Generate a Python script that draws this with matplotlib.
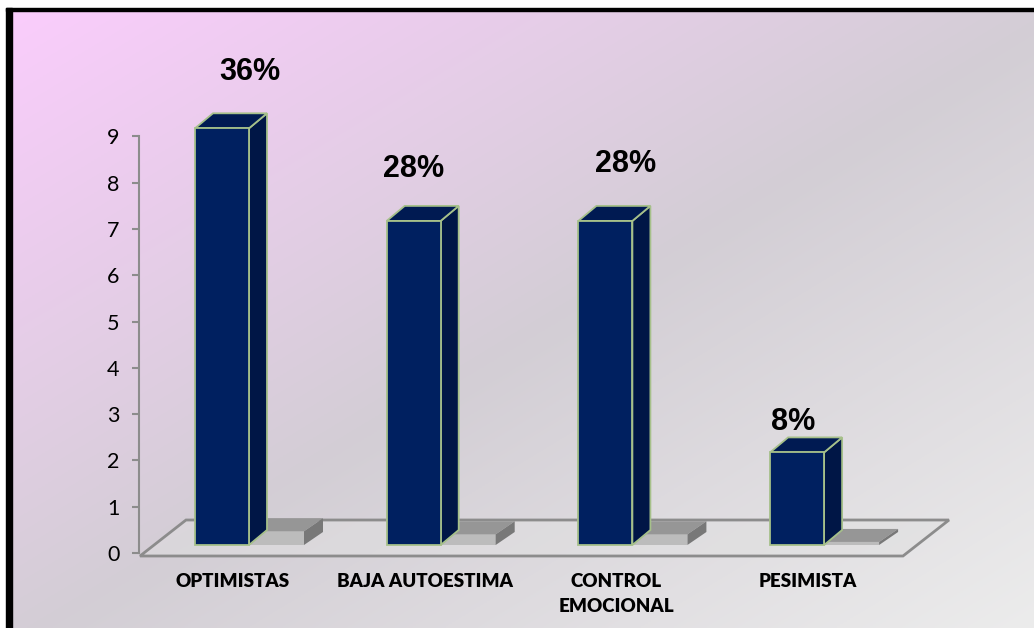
import numpy as np
import matplotlib.pyplot as plt
from matplotlib.patches import Polygon, Rectangle

categorias = ['OPTIMISTAS', 'BAJA AUTOESTIMA', 'CONTROL\nEMOCIONAL', 'PESIMISTA']
cantidad = [9, 7, 7, 2]
total = sum(cantidad)
porcentajes = [round(c / total * 100) for c in cantidad]
marcas_y = list(range(0, 10))

W, H = 1034, 628
fig = plt.figure(figsize=(W / 100, H / 100), dpi=100)

# escala de la vista: pixeles por categoria y por unidad de valor
SX, SY = 191.7, 46.3
X0, Y0 = 212, 553


def d(dx, dy):
    # desplazamiento en pixeles (dy hacia arriba) -> unidades de datos
    return dx / SX, dy / SY


# fondo degradado rosa -> gris
bg = fig.add_axes([12 / W, 0, 1 - 12 / W, (H - 11) / H])
bg.axis('off')
U, V = np.meshgrid(np.linspace(0, 1, 400), np.linspace(0, 1, 300))
t = (U + V) / 2
stops = np.array([[250, 204, 252], [211, 206, 213], [236, 236, 236]]) / 255
img = np.empty(t.shape + (3,))
for k in range(3):
    img[..., k] = np.interp(t, [0, 0.52, 1], stops[:, k])
bg.imshow(img, aspect='auto', extent=[0, 1, 0, 1])
bg.set_xlim(0, 1)
bg.set_ylim(0, 1)

# borde negro izquierdo y superior
fig.add_artist(Rectangle((6 / W, 0), 6 / W, (H - 8) / H, transform=fig.transFigure,
                         color='black', zorder=10))
fig.add_artist(Rectangle((6 / W, (H - 11) / H), 1, 3 / H, transform=fig.transFigure,
                         color='black', zorder=10))

ax = fig.add_axes([0, 0, 1, 1])
ax.patch.set_alpha(0)
ax.set_xlim((0 - X0) / SX, (W - X0) / SX)
ax.set_ylim((Y0 - H) / SY, Y0 / SY)

gris = '#8c8c8c'
for s in ['top', 'right', 'bottom']:
    ax.spines[s].set_visible(False)
ax.spines['left'].set_position(('data', (139 - X0) / SX))
ax.spines['left'].set_bounds(0, 9)
ax.spines['left'].set_color(gris)
ax.spines['left'].set_linewidth(1.5)
ax.set_xticks([])
ax.set_yticks(marcas_y)
ax.tick_params(axis='y', direction='out', length=5, width=1.5, color=gris,
               labelsize=15.5, pad=9, labelcolor='black')
for lab in ax.get_yticklabels():
    lab.set_family('Lato')

# piso
fx0, fx1 = (140 - X0) / SX, (903 - X0) / SX
fy = (Y0 - 556) / SY
pdx, pdy = d(46, 36)
ax.add_patch(Polygon([(fx0, fy), (fx1, fy), (fx1 + pdx, fy + pdy), (fx0 + pdx, fy + pdy)],
                     closed=True, facecolor=(0.88, 0.88, 0.88, 0.5), edgecolor=gris,
                     lw=2, zorder=1))

bw = 54 / SX
ofx, ofy = d(10, 8)
bdx, bdy = d(18, 15)
sdx, sdy = d(19, 13)
slen = 55 / SX
borde = '#a6c08a'

for i, (cat, v, p) in enumerate(zip(categorias, cantidad, porcentajes)):
    cx = i + ofx
    left = cx - bw / 2
    right = left + bw
    base = ofy
    top = base + v

    # sombra
    th = 0.033 * v
    ax.add_patch(Polygon([(right, base), (right + slen, base), (right + slen, base + th),
                          (right, base + th)], facecolor='#bcbcbc', lw=0, zorder=2))
    ax.add_patch(Polygon([(right, base + th), (right + slen, base + th),
                          (right + slen + sdx, base + th + sdy), (right + sdx, base + th + sdy)],
                         facecolor='#969696', lw=0, zorder=2))
    ax.add_patch(Polygon([(right + slen, base), (right + slen + sdx, base + sdy),
                          (right + slen + sdx, base + th + sdy), (right + slen, base + th)],
                         facecolor='#787878', lw=0, zorder=2))

    # barra 3D
    ax.add_patch(Polygon([(right, base), (right + bdx, base + bdy), (right + bdx, top + bdy),
                          (right, top)], facecolor='#001646', edgecolor=borde, lw=1.3, zorder=3))
    ax.add_patch(Polygon([(left, top), (right, top), (right + bdx, top + bdy),
                          (left + bdx, top + bdy)], facecolor='#001a52', edgecolor=borde,
                         lw=1.3, zorder=3))
    ax.add_patch(Polygon([(left, base), (right, base), (right, top), (left, top)],
                         facecolor='#002060', edgecolor=borde, lw=1.3, zorder=4))

    ax.annotate(cat, (cx, 0), xytext=(11, -20), textcoords='offset pixels',
                ha='center', va='top', fontsize=13.5, fontweight='heavy', family='Lato',
                multialignment='center', linespacing=1.55)

etiquetas_off = [(28, 56), (0, 52), (20, 57), (-4, 30)]
for i, (v, p) in enumerate(zip(cantidad, porcentajes)):
    ax.annotate(f'{p}%', (i + ofx, ofy + v), xytext=etiquetas_off[i],
                textcoords='offset pixels', ha='center', va='center',
                fontsize=22, fontweight='bold', family='Liberation Sans')

fig.savefig('out.png', dpi=100)
